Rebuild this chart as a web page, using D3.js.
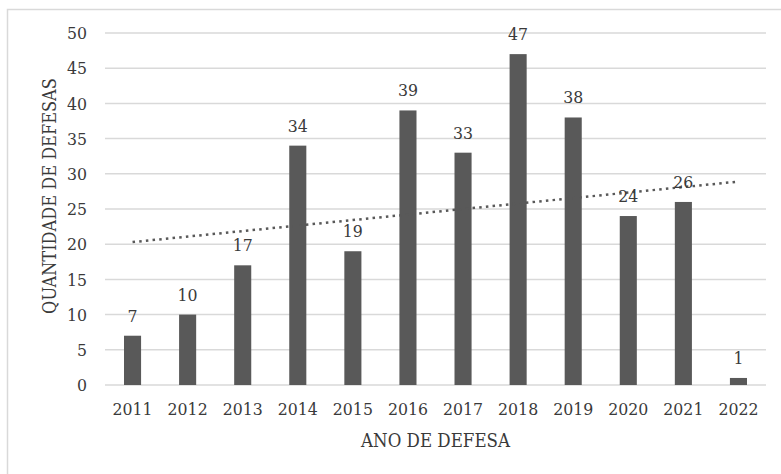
<!DOCTYPE html>
<html>
<head>
<meta charset="utf-8">
<script src="https://cdn.jsdelivr.net/npm/d3@7"></script>
<style>
  body { margin: 0; background: #fff; }
  svg text { font-family: "DejaVu Serif Condensed", "DejaVu Serif", serif; font-stretch: condensed; fill: #3a3a3a; }
</style>
</head>
<body>
<div id="chart"></div>
<script>
// data
const years = ["2011", "2012", "2013", "2014", "2015", "2016", "2017", "2018", "2019", "2020", "2021", "2022"];
const defesas = [7, 10, 17, 34, 19, 39, 33, 47, 38, 24, 26, 1];
const yTicks = [0, 5, 10, 15, 20, 25, 30, 35, 40, 45, 50];
// linear trend line, value at first and last year
const trendEnds = [20.3, 28.9];

const width = 781, height = 474;
const margin = { top: 33, right: 15, bottom: 89, left: 105 };
const fontSize = "17.5px";

const svg = d3.select("#chart")
  .append("svg")
  .attr("width", width)
  .attr("height", height);

// outer border (runs on past the right and bottom edges)
svg.append("rect")
  .attr("x", 7.5)
  .attr("y", 9.5)
  .attr("width", 900)
  .attr("height", 600)
  .attr("fill", "none")
  .attr("stroke", "#d9d9d9")
  .attr("stroke-width", 1.5);

const x = d3.scaleBand()
  .domain(years)
  .range([margin.left, width - margin.right])
  .paddingInner(0.69)
  .paddingOuter(0.345);

const y = d3.scaleLinear()
  .domain([0, 50])
  .range([height - margin.bottom, margin.top]);

// grid
svg.append("g")
  .selectAll("line")
  .data(yTicks)
  .enter()
  .append("line")
  .attr("x1", margin.left)
  .attr("x2", width - margin.right)
  .attr("y1", d => y(d))
  .attr("y2", d => y(d))
  .attr("stroke", "#d9d9d9")
  .attr("stroke-width", 1.5);

// y axis labels
const yAxis = svg.append("g")
  .attr("transform", "translate(" + (margin.left - 8) + ",0)")
  .call(d3.axisLeft(y).tickValues(yTicks).tickSize(0).tickPadding(10));
yAxis.select(".domain").remove();
yAxis.selectAll("text")
  .style("font-size", fontSize)
  .style("font-family", null)
  .attr("fill", "#3a3a3a");

// x axis labels
const xAxis = svg.append("g")
  .attr("transform", "translate(0," + (height - margin.bottom) + ")")
  .call(d3.axisBottom(x).tickSize(0));
xAxis.select(".domain").remove();
xAxis.selectAll("text")
  .attr("y", 30)
  .attr("dy", null)
  .style("font-size", fontSize)
  .attr("fill", "#3a3a3a");

// bars
svg.append("g")
  .selectAll("rect")
  .data(years)
  .enter()
  .append("rect")
  .attr("x", d => x(d))
  .attr("width", x.bandwidth())
  .attr("y", (d, i) => y(defesas[i]))
  .attr("height", (d, i) => y(0) - y(defesas[i]))
  .attr("fill", "#595959");

// trend line
const cx = d => x(d) + x.bandwidth() / 2;
svg.append("line")
  .attr("x1", cx(years[0]))
  .attr("x2", cx(years[years.length - 1]))
  .attr("y1", y(trendEnds[0]))
  .attr("y2", y(trendEnds[1]))
  .attr("stroke", "#595959")
  .attr("stroke-width", 2.5)
  .attr("stroke-dasharray", "2.5,4.2");

// value labels
svg.append("g")
  .selectAll("text")
  .data(years)
  .enter()
  .append("text")
  .attr("x", d => cx(d))
  .attr("y", (d, i) => y(defesas[i]) - 14)
  .attr("text-anchor", "middle")
  .style("font-size", fontSize)
  .text((d, i) => defesas[i]);

// axis titles
svg.append("text")
  .attr("x", (margin.left + width - margin.right) / 2)
  .attr("y", 447)
  .attr("text-anchor", "middle")
  .style("font-size", "18.5px")
  .text("ANO DE DEFESA");

svg.append("text")
  .attr("transform", "translate(56,196) rotate(-90)")
  .attr("text-anchor", "middle")
  .style("font-size", "18px")
  .text("QUANTIDADE DE DEFESAS");
</script>
</body>
</html>
